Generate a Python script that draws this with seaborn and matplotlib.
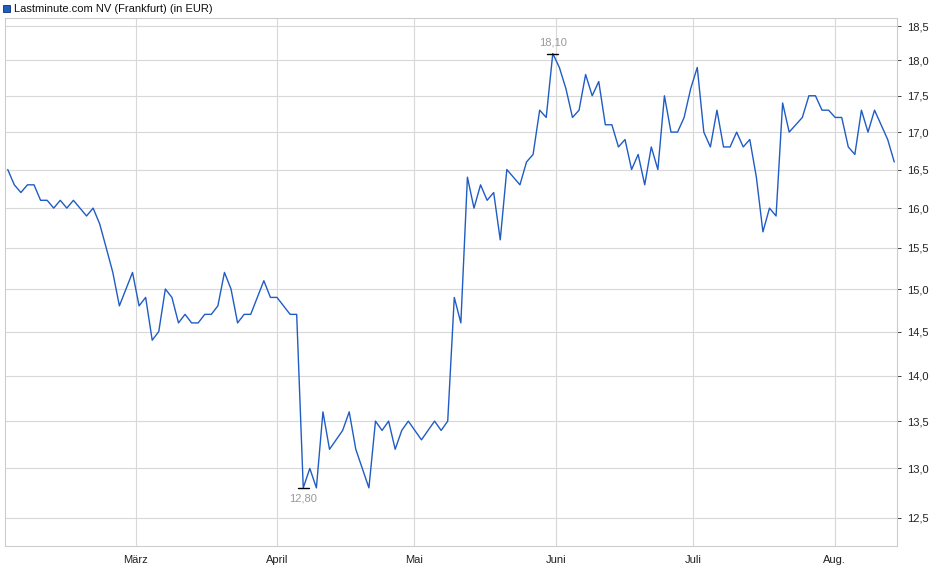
import matplotlib

matplotlib.use("Agg")

import matplotlib.dates as mdates
import matplotlib.pyplot as plt
import matplotlib.ticker as mticker
import numpy as np
import pandas as pd
import seaborn as sns

# prices (EUR)
prices = [
    16.5, 16.3, 16.2, 16.3, 16.3, 16.1, 16.1, 16.0, 16.1, 16.0, 16.1, 16.0, 15.9, 16.0, 15.8,
    15.5, 15.2, 14.8, 15.0, 15.2, 14.8, 14.9, 14.4, 14.5, 15.0, 14.9, 14.6, 14.7, 14.6, 14.6,
    14.7, 14.7, 14.8, 15.2, 15.0, 14.6, 14.7, 14.7, 14.9, 15.1, 14.9, 14.9, 14.8, 14.7, 14.7,
    12.8, 13.0, 12.8, 13.6, 13.2, 13.3, 13.4, 13.6, 13.2, 13.0, 12.8, 13.5, 13.4, 13.5, 13.2,
    13.4, 13.5, 13.4, 13.3, 13.4, 13.5, 13.4, 13.5, 14.9, 14.6, 16.4, 16.0, 16.3, 16.1, 16.2,
    15.6, 16.5, 16.4, 16.3, 16.6, 16.7, 17.3, 17.2, 18.1, 17.9, 17.6, 17.2, 17.3, 17.8, 17.5,
    17.7, 17.1, 17.1, 16.8, 16.9, 16.5, 16.7, 16.3, 16.8, 16.5, 17.5, 17.0, 17.0, 17.2, 17.6,
    17.9, 17.0, 16.8, 17.3, 16.8, 16.8, 17.0, 16.8, 16.9, 16.4, 15.7, 16.0, 15.9, 17.4, 17.0,
    17.1, 17.2, 17.5, 17.5, 17.3, 17.3, 17.2, 17.2, 16.8, 16.7, 17.3, 17.0, 17.3, 17.1, 16.9,
    16.6,
]
dates = pd.date_range("2023-02-01", "2023-08-14", periods=len(prices))
df = pd.DataFrame({"date": dates, "price": prices})

month_names = {3: "März", 4: "April", 5: "Mai", 6: "Juni", 7: "Juli", 8: "Aug."}
y_ticks = [12.5, 13.0, 13.5, 14.0, 14.5, 15.0, 15.5, 16.0, 16.5, 17.0, 17.5, 18.0, 18.5]

sns.set_style("white")
plt.rcParams["font.family"] = ["Liberation Sans", "DejaVu Sans"]

fig = plt.figure(figsize=(9.4, 5.79), dpi=100)
ax = fig.add_axes([5 / 940, 33 / 579, 892 / 940, 528 / 579])

sns.lineplot(data=df, x="date", y="price", ax=ax, color="#1f5cc4", linewidth=1.0)

ax.set_yscale("log")
ax.set_ylim(12.22, 18.62)
ax.set_xlim(dates[0] - pd.Timedelta(days=0.6), dates[-1] + pd.Timedelta(days=0.6))
ax.yaxis.set_major_locator(mticker.FixedLocator(y_ticks))
ax.yaxis.set_minor_locator(mticker.NullLocator())
ax.yaxis.set_major_formatter(mticker.FuncFormatter(lambda v, _: f"{v:.1f}".replace(".", ",")))
ax.yaxis.tick_right()
ax.xaxis.set_major_locator(mdates.MonthLocator(bymonth=[3, 4, 5, 6, 7, 8]))
ax.xaxis.set_major_formatter(mticker.FuncFormatter(lambda v, _: month_names[mdates.num2date(v).month]))
ax.tick_params(axis="both", labelsize=8, colors="#222222", length=3, width=0.6)
ax.tick_params(axis="y", direction="out", pad=4)
ax.grid(True, color="#d8d8d8", linewidth=0.8)
ax.set_xlabel("")
ax.set_ylabel("")
for side, sp in ax.spines.items():
    sp.set_color("#cccccc")
    sp.set_linewidth(0.8)

# high / low markers
hi = int(np.argmax(prices))
lo = int(np.argmin(prices))
for idx, va, off in [(hi, "bottom", 4), (lo, "top", -4)]:
    d = dates[idx]
    ax.plot([d - pd.Timedelta(days=1.2), d + pd.Timedelta(days=1.2)], [prices[idx]] * 2,
            color="black", linewidth=1.0)
    ax.annotate(f"{prices[idx]:.2f}".replace(".", ","), (d, prices[idx]), xytext=(0, off),
                textcoords="offset points", ha="center", va=va, fontsize=8, color="#999999")

# legend-style title
fig.patches.append(plt.Rectangle((3 / 940, 1 - 12 / 579), 7 / 940, 7 / 579, transform=fig.transFigure,
                                 facecolor="#1f5cc4", edgecolor="#0d2f70", linewidth=0.6))
fig.text(14 / 940, 1 - 8.5 / 579, "Lastminute.com NV (Frankfurt) (in EUR)", fontsize=8,
         va="center", ha="left", color="#111111")

fig.savefig("out.png", dpi=100)
